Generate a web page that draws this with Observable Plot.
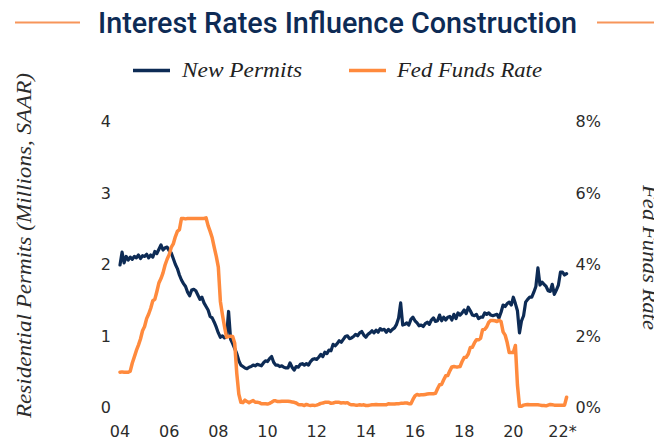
<!DOCTYPE html>
<html>
<head>
<meta charset="utf-8">
<script src="https://cdn.jsdelivr.net/npm/d3@7"></script>
<script src="https://cdn.jsdelivr.net/npm/@observablehq/plot@0.6"></script>
<style>
  html, body { margin: 0; padding: 0; background: #fff; overflow: hidden; }
  #chart svg { display: block; }
</style>
</head>
<body>
<div id="chart"></div>
<script>
// ---- data (monthly, starting Jan 2004) ----
const startYear = 2004;

// Residential permits, millions SAAR
const permits = [
  2.00, 2.18, 2.03, 2.12, 2.07, 2.11, 2.08, 2.12, 2.10, 2.14, 2.09, 2.13, // 2004
  2.12, 2.15, 2.10, 2.14, 2.11, 2.19, 2.16, 2.22, 2.28, 2.21, 2.24, 2.25, // 2005
  2.20, 2.17, 2.09, 2.01, 1.95, 1.86, 1.79, 1.74, 1.70, 1.62, 1.57, 1.65, // 2006
  1.66, 1.64, 1.58, 1.52, 1.55, 1.47, 1.42, 1.37, 1.28, 1.26, 1.20, 1.13, // 2007
  1.05, 0.99, 1.01, 0.98, 1.00, 1.35, 0.96, 0.90, 0.83, 0.76, 0.66, 0.60, // 2008
  0.58, 0.56, 0.55, 0.57, 0.58, 0.60, 0.59, 0.61, 0.60, 0.59, 0.63, 0.66, // 2009
  0.65, 0.69, 0.72, 0.64, 0.60, 0.60, 0.58, 0.59, 0.57, 0.56, 0.56, 0.63, // 2010
  0.57, 0.53, 0.58, 0.57, 0.61, 0.62, 0.60, 0.62, 0.60, 0.65, 0.68, 0.69, // 2011
  0.68, 0.71, 0.75, 0.72, 0.78, 0.76, 0.81, 0.80, 0.89, 0.87, 0.90, 0.94, // 2012
  0.92, 0.96, 1.00, 1.01, 0.97, 0.98, 1.00, 1.03, 1.01, 1.05, 1.07, 1.02, // 2013
  0.99, 1.03, 1.05, 1.08, 1.05, 1.09, 1.06, 1.11, 1.09, 1.10, 1.06, 1.10, // 2014
  1.07, 1.10, 1.12, 1.17, 1.26, 1.47, 1.16, 1.17, 1.19, 1.16, 1.24, 1.27, // 2015
  1.22, 1.19, 1.15, 1.16, 1.14, 1.18, 1.20, 1.17, 1.23, 1.26, 1.21, 1.22, // 2016
  1.30, 1.22, 1.27, 1.23, 1.27, 1.28, 1.23, 1.31, 1.25, 1.33, 1.30, 1.33, // 2017
  1.37, 1.32, 1.41, 1.36, 1.30, 1.29, 1.31, 1.25, 1.27, 1.27, 1.33, 1.31, // 2018
  1.33, 1.30, 1.29, 1.30, 1.31, 1.26, 1.34, 1.44, 1.42, 1.46, 1.48, 1.44, // 2019
  1.55, 1.46, 1.36, 1.05, 1.22, 1.29, 1.48, 1.52, 1.55, 1.55, 1.62, 1.70, // 2020
  1.96, 1.72, 1.76, 1.73, 1.70, 1.64, 1.63, 1.73, 1.59, 1.65, 1.72, 1.90, // 2021
  1.90, 1.86, 1.88                                                        // 2022
];

// Fed funds rate, percent
const fedFunds = [
  1.00, 1.01, 1.00, 1.00, 1.00, 1.03, 1.26, 1.43, 1.61, 1.76, 1.93, 2.16, // 2004
  2.28, 2.50, 2.63, 2.79, 3.00, 3.04, 3.26, 3.50, 3.62, 3.78, 4.00, 4.16, // 2005
  4.29, 4.49, 4.59, 4.79, 4.94, 4.99, 5.30, 5.30, 5.29, 5.30, 5.30, 5.30, // 2006
  5.30, 5.30, 5.30, 5.30, 5.30, 5.30, 5.32, 5.10, 4.94, 4.76, 4.49, 4.24, // 2007
  3.94, 2.98, 2.61, 2.28, 1.98, 2.00, 2.01, 2.00, 1.81, 0.97, 0.39, 0.16, // 2008
  0.15, 0.22, 0.18, 0.15, 0.18, 0.21, 0.16, 0.16, 0.15, 0.12, 0.12, 0.12, // 2009
  0.11, 0.13, 0.16, 0.20, 0.20, 0.18, 0.18, 0.19, 0.19, 0.19, 0.19, 0.18, // 2010
  0.17, 0.16, 0.14, 0.10, 0.09, 0.09, 0.07, 0.10, 0.08, 0.07, 0.08, 0.07, // 2011
  0.08, 0.10, 0.13, 0.14, 0.16, 0.16, 0.16, 0.13, 0.14, 0.16, 0.16, 0.16, // 2012
  0.14, 0.15, 0.14, 0.15, 0.11, 0.09, 0.09, 0.08, 0.08, 0.09, 0.08, 0.09, // 2013
  0.07, 0.07, 0.08, 0.09, 0.09, 0.10, 0.09, 0.09, 0.09, 0.09, 0.09, 0.12, // 2014
  0.11, 0.11, 0.11, 0.12, 0.12, 0.13, 0.13, 0.14, 0.14, 0.12, 0.12, 0.24, // 2015
  0.34, 0.38, 0.36, 0.37, 0.37, 0.38, 0.39, 0.40, 0.40, 0.40, 0.41, 0.54, // 2016
  0.65, 0.66, 0.79, 0.90, 0.91, 1.04, 1.15, 1.16, 1.15, 1.15, 1.16, 1.30, // 2017
  1.41, 1.42, 1.51, 1.69, 1.70, 1.82, 1.91, 1.91, 1.95, 2.19, 2.20, 2.27, // 2018
  2.40, 2.45, 2.45, 2.44, 2.42, 2.45, 2.42, 2.13, 2.04, 1.83, 1.55, 1.55, // 2019
  1.55, 1.75, 0.65, 0.05, 0.05, 0.08, 0.09, 0.10, 0.09, 0.09, 0.09, 0.09, // 2020
  0.09, 0.08, 0.07, 0.07, 0.06, 0.08, 0.10, 0.09, 0.08, 0.08, 0.08, 0.08, // 2021
  0.08, 0.08, 0.30                                                        // 2022
];

const xTicks = [2004, 2006, 2008, 2010, 2012, 2014, 2016, 2018, 2020, 2022];
const xTickLabels = ["04", "06", "08", "10", "12", "14", "16", "18", "20", "22*"];
const leftTicks = [0, 1, 2, 3, 4];
const leftTickLabels = ["0", "1", "2", "3", "4"];
const rightTickLabels = ["0%", "2%", "4%", "6%", "8%"];
const rateToPermitRatio = 2; // 8% on the right axis lines up with 4 on the left

const titleText = "Interest Rates Influence Construction";
const seriesNames = ["New Permits", "Fed Funds Rate"];
const leftLabel = "Residential Permits (Millions, SAAR)";
const rightLabel = "Fed Funds Rate";

const navy = "#0d2b55";
const orange = "#ff8a3d";

// ---- tables for Plot ----
const permitRows = permits.map((v, i) => ({date: startYear + i / 12, value: v}));
const rateRows = fedFunds.map((v, i) => ({date: startYear + i / 12, value: v / rateToPermitRatio}));

const chart = Plot.plot({
  width: 654,
  height: 440,
  marginLeft: 119.5,
  marginRight: 92,
  marginTop: 121.5,
  marginBottom: 32.5,
  x: {domain: [2004, 2022]},
  y: {domain: [0, 4]},
  style: {fontFamily: "DejaVu Sans", fontSize: "16px", color: "#2b2b2b", background: "#fff", overflow: "hidden"},
  marks: [
    Plot.axisX({ticks: xTicks, tickFormat: d => xTickLabels[xTicks.indexOf(d)], tickSize: 0, tickPadding: 17.5, label: null}),
    Plot.axisY({anchor: "left", ticks: leftTicks, tickFormat: d => leftTickLabels[leftTicks.indexOf(d)], tickSize: 0, tickPadding: 9, label: null}),
    Plot.axisY({anchor: "right", ticks: leftTicks, tickFormat: d => rightTickLabels[leftTicks.indexOf(d)], tickSize: 0, tickPadding: 13, label: null}),
    Plot.line(permitRows, {x: "date", y: "value", stroke: navy, strokeWidth: 3.2, strokeLinejoin: "round"}),
    Plot.line(rateRows, {x: "date", y: "value", stroke: orange, strokeWidth: 3.5, strokeLinejoin: "round"})
  ]
});

document.getElementById("chart").appendChild(chart);

// ---- header, legend and axis titles ----
const svg = d3.select(chart);
const head = svg.append("g").attr("text-anchor", "start");

head.append("line").attr("x1", 15).attr("x2", 80).attr("y1", 22.5).attr("y2", 22.5)
  .attr("stroke", "#f7955a").attr("stroke-width", 1.8);
head.append("line").attr("x1", 597).attr("x2", 670).attr("y1", 22.5).attr("y2", 22.5)
  .attr("stroke", "#f7955a").attr("stroke-width", 1.8);
head.append("text").text(titleText)
  .attr("x", 98).attr("y", 33)
  .attr("text-anchor", "start")
  .attr("textLength", 479).attr("lengthAdjust", "spacingAndGlyphs")
  .attr("fill", navy)
  .style("font-family", "Roboto, 'Liberation Sans', sans-serif")
  .style("font-weight", 500)
  .style("font-size", "29.5px");

const legendItems = [
  {name: seriesNames[0], color: navy, x1: 133, x2: 170, tx: 182, len: 120},
  {name: seriesNames[1], color: orange, x1: 349, x2: 386, tx: 397, len: 145}
];
for (const it of legendItems) {
  head.append("line").attr("x1", it.x1).attr("x2", it.x2).attr("y1", 70.5).attr("y2", 70.5)
    .attr("stroke", it.color).attr("stroke-width", 3.5);
  head.append("text").text(it.name)
    .attr("x", it.tx).attr("y", 77)
    .attr("text-anchor", "start")
    .attr("textLength", it.len).attr("lengthAdjust", "spacingAndGlyphs")
    .attr("fill", "#222")
    .style("font-family", "'Liberation Serif', 'DejaVu Serif', serif")
    .style("font-style", "italic")
    .style("font-size", "20px");
}

head.append("text").text(leftLabel)
  .attr("transform", "translate(31,245.5) rotate(-90)")
  .attr("text-anchor", "middle")
  .attr("textLength", 345).attr("lengthAdjust", "spacingAndGlyphs")
  .attr("fill", "#2b2b2b")
  .style("font-family", "'Liberation Serif', 'DejaVu Serif', serif")
  .style("font-style", "italic")
  .style("font-size", "21px");

head.append("text").text(rightLabel)
  .attr("transform", "translate(643,257.5) rotate(90)")
  .attr("text-anchor", "middle")
  .attr("textLength", 145).attr("lengthAdjust", "spacingAndGlyphs")
  .attr("fill", "#2b2b2b")
  .style("font-family", "'Liberation Serif', 'DejaVu Serif', serif")
  .style("font-style", "italic")
  .style("font-size", "20px");
</script>
</body>
</html>
